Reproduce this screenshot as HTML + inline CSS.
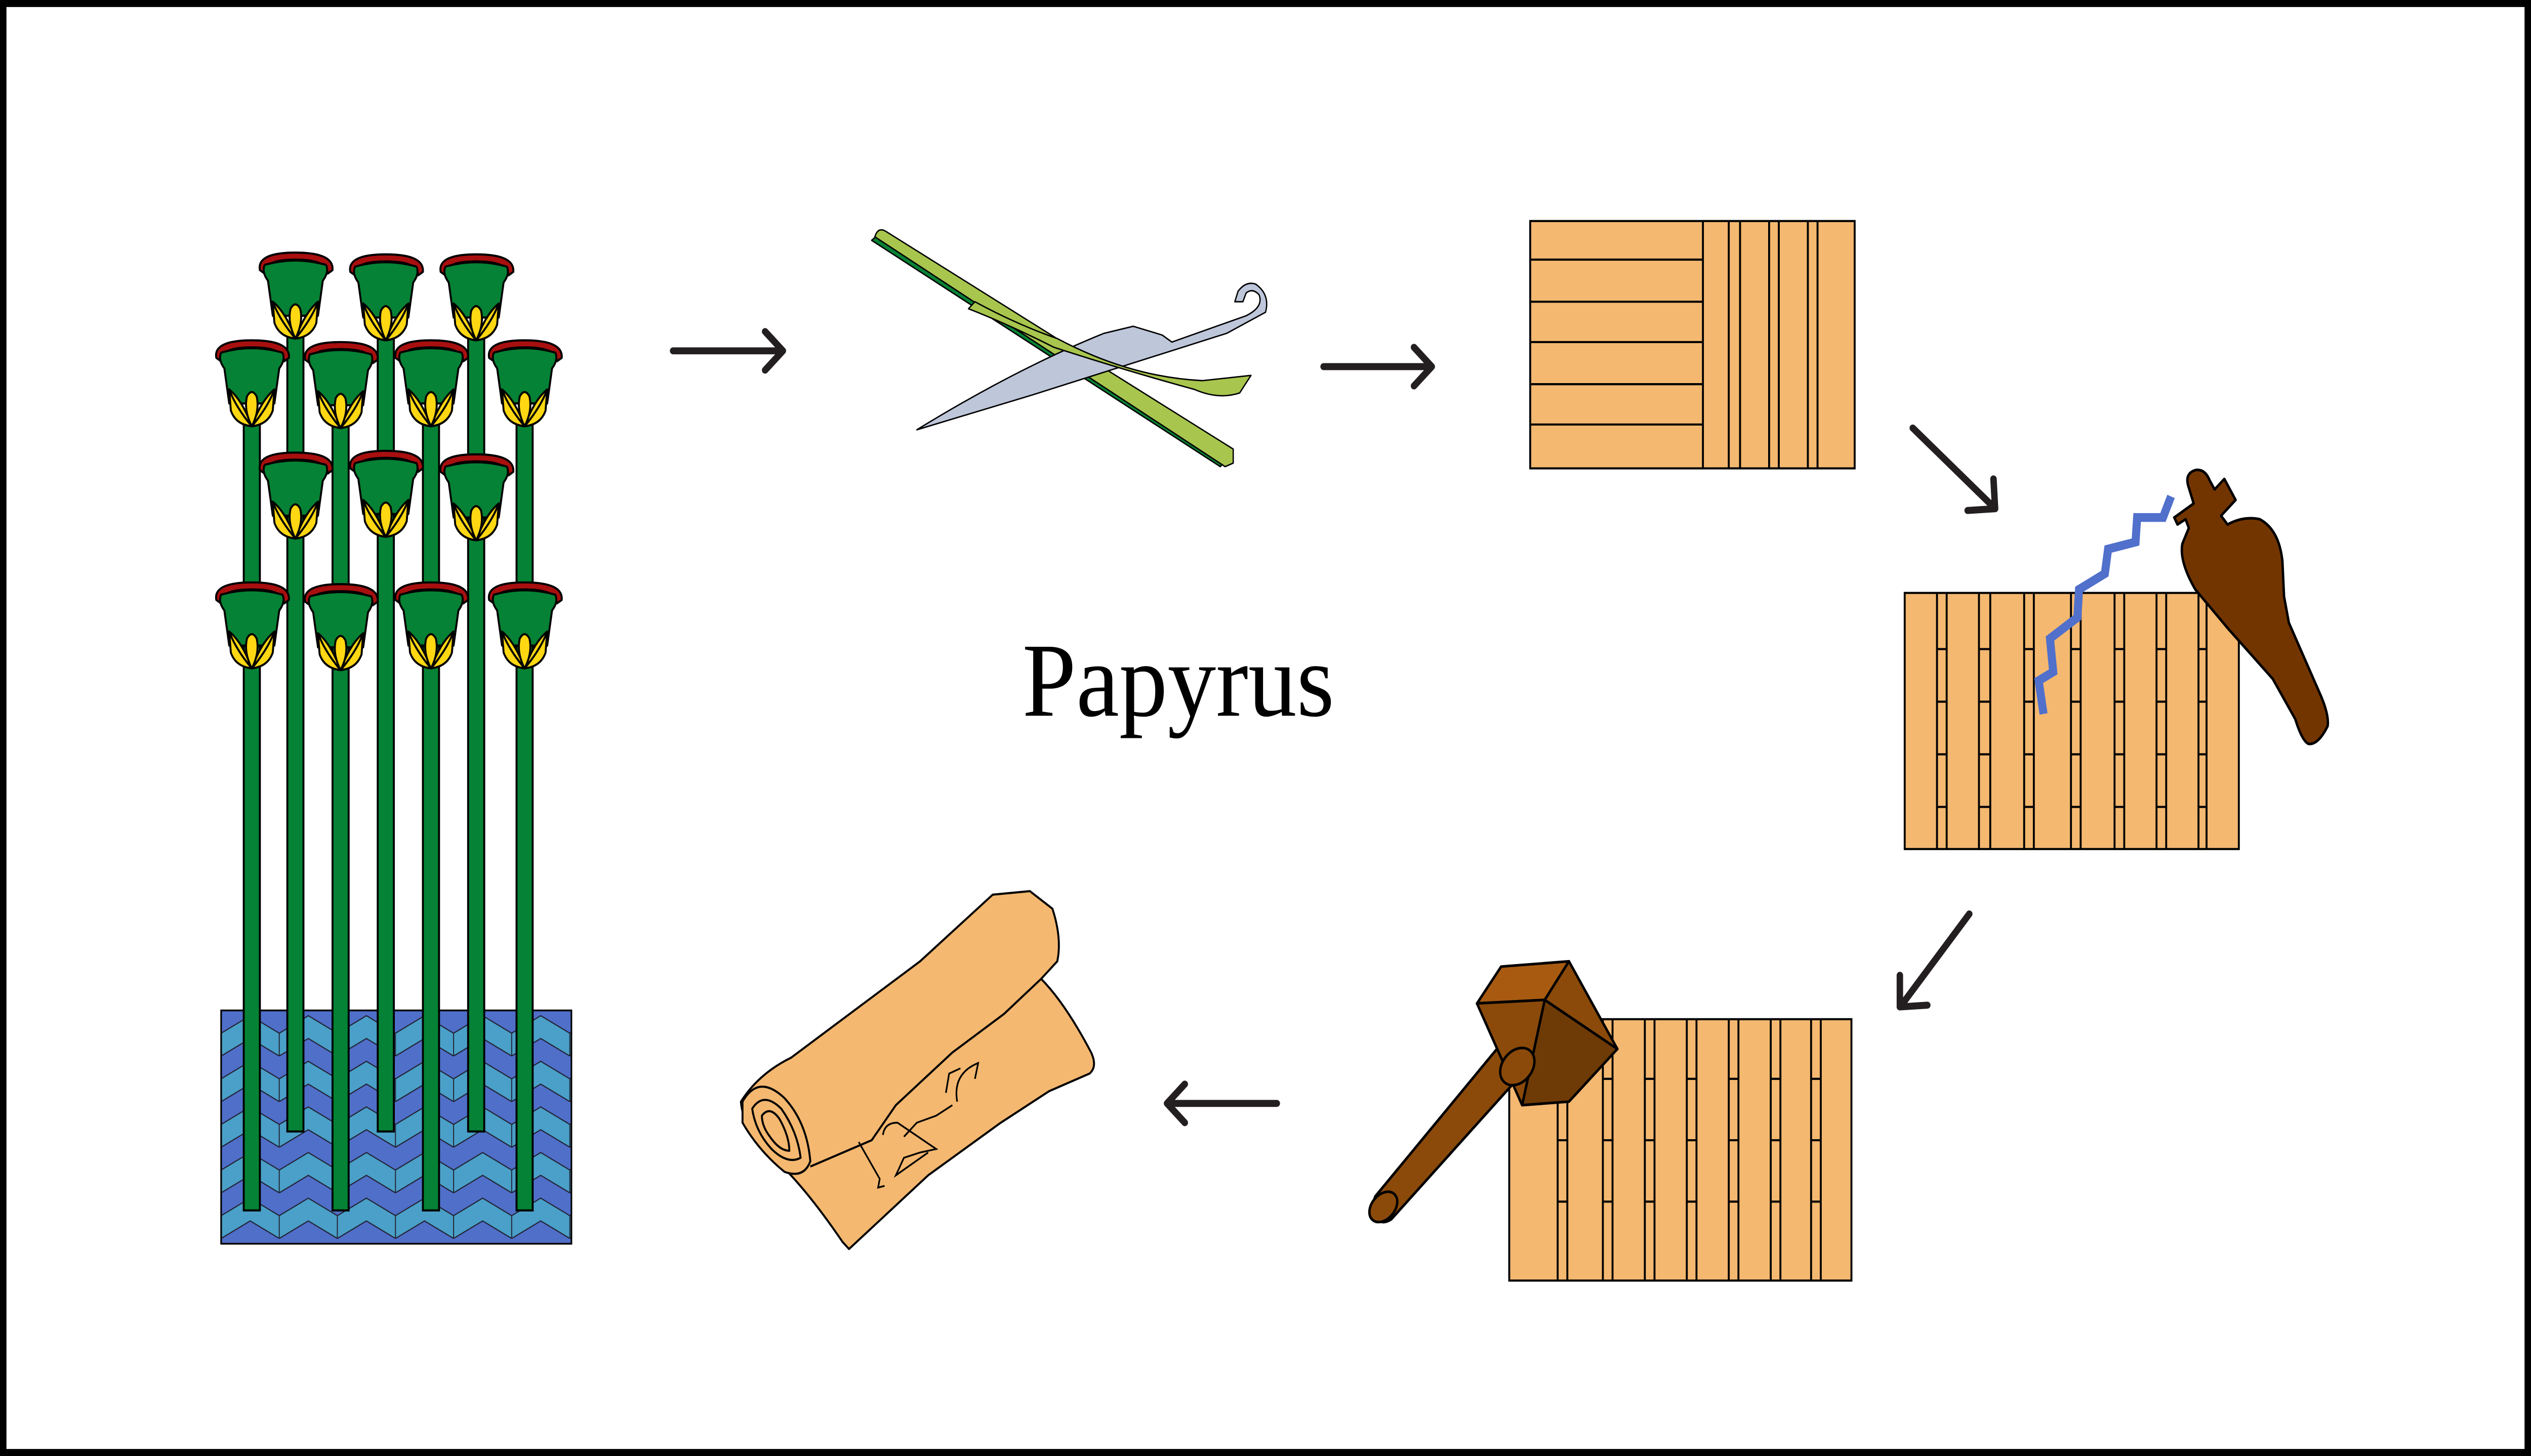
<!DOCTYPE html>
<html><head><meta charset="utf-8"><style>
html,body{margin:0;padding:0;background:#fff;overflow:hidden;width:100%;height:100%}
svg{display:block;position:absolute;left:0;top:0;width:100vw;height:100vh}
</style></head><body>
<svg viewBox="0 0 1568 830" preserveAspectRatio="none" xmlns="http://www.w3.org/2000/svg">
<defs>
<g id="fl" stroke="#000" stroke-width="1.2" stroke-linejoin="round">
<path d="M-22,8 Q-24,-2 0,-2 Q24,-2 23,8 L20,10 Q20,2 0,2 Q-20,2 -19,10 Z" fill="#a80f0f"/>
<path d="M-19,5 Q0,0 19,5 Q21,9 17,14 L14,34 L-14,34 L-17,14 Q-21,9 -19,5 Z" fill="#058235"/>
<path d="M-14,26 L0,44 L14,26 L13,38 Q10,46 0,47 Q-10,46 -13,38 Z" fill="#ffd712"/>
<path d="M0,47 Q-10,36 -14,26 Q-6,32 0,47 Z" fill="#ffd712"/>
<path d="M0,47 Q10,36 14,26 Q6,32 0,47 Z" fill="#ffd712"/>
<path d="M0,47 Q-5,38 -3,30 Q0,25 3,30 Q5,38 0,47 Z" fill="#ffd712"/>
</g>
<pattern id="wz" x="137" y="576" width="36" height="26" patternUnits="userSpaceOnUse">
<rect width="36" height="26" fill="#4f6fc9"/>
<path d="M0,13 L18,3 L36,13 L36,26 L18,16 L0,26 Z" fill="#4aa0c8" stroke="#223" stroke-width="0.6"/>
<path d="M0,13 L18,3 L36,13 M0,0 L18,-10 L36,0 M0,26 L18,16 L36,26" fill="none" stroke="#223" stroke-width="0.6"/>
</pattern>
</defs>
<rect x="2" y="2" width="1564" height="826" fill="#fff" stroke="#000" stroke-width="4"/>

<rect x="137" y="576" width="217" height="133" fill="url(#wz)" stroke="#000" stroke-width="1"/>

<g fill="#058235" stroke="#000" stroke-width="1.2">
<rect x="178" y="185" width="10" height="460"/>
<rect x="234" y="185" width="10" height="460"/>
<rect x="290" y="185" width="10" height="460"/>
<rect x="151" y="235" width="10" height="455"/>
<rect x="206" y="235" width="10" height="455"/>
<rect x="262" y="235" width="10" height="455"/>
<rect x="320" y="235" width="10" height="455"/>
</g>
<use href="#fl" x="183" y="146"/><use href="#fl" x="239" y="147"/><use href="#fl" x="295" y="147"/>
<use href="#fl" x="156" y="196"/><use href="#fl" x="211" y="197"/><use href="#fl" x="267" y="196"/><use href="#fl" x="325" y="196"/>
<use href="#fl" x="183" y="260"/><use href="#fl" x="239" y="259"/><use href="#fl" x="295" y="261"/>
<use href="#fl" x="156" y="334"/><use href="#fl" x="211" y="335"/><use href="#fl" x="267" y="334"/><use href="#fl" x="325" y="334"/>

<g fill="none" stroke="#231f20" stroke-width="4" stroke-linecap="round" stroke-linejoin="round">
<path d="M417,200 L484,200 M474,189 L485,200 L474,211"/>
<path d="M820,209 L886,209 M876,198 L887,209 L876,220"/>
<path d="M1185,244 L1235,289 M1235,273 L1236,290 L1219,291"/>
<path d="M1220,521 L1178,573 M1177,556 L1177,574 L1194,573"/>
<path d="M791,629 L724,629 M734,618 L723,629 L734,640"/>
</g>

<g stroke="#000" stroke-width="0.8" stroke-linejoin="round">
<path d="M540,137 L756,266 L760,262 L545,133 Z" fill="#058235"/>
<path d="M542,135 Q544,129 549,132 L764,256 L764,264 L759,266 Z" fill="#a8c64e"/>
<path d="M568,245 Q630,210 684,190 L702,186 L720,191 L726,195 L772,180 Q783,175 780,168 Q776,164 772,167 L770,172 L765,172 L767,166 Q772,160 778,162 Q787,168 784,178 L760,190 L640,225 Z" fill="#bec6da"/>
<path d="M604,172 Q630,185 655,193 Q700,215 745,217 L775,214 L768,224 Q755,228 740,222 Q700,212 653,198 Q625,185 600,176 Z" fill="#a8c64e"/>
</g>

<g stroke="#000" stroke-width="1.2" fill="#f4b870">
<rect x="948" y="126" width="201" height="141"/>
<path d="M948,148 H1055 M948,172 H1055 M948,195 H1055 M948,219 H1055 M948,242 H1055 M1055,126 V267 M1071,126 V267 M1078,126 V267 M1096,126 V267 M1102,126 V267 M1120,126 V267 M1126,126 V267" fill="none"/>
</g>

<g stroke="#000" stroke-width="1.2" fill="#f4b870">
<rect x="1180" y="338" width="207" height="146"/>
<path d="M1200,338V484M1206,338V484M1226,338V484M1233,338V484M1254,338V484M1260,338V484M1283,338V484M1289,338V484M1310,338V484M1316,338V484M1336,338V484M1342,338V484M1362,338V484M1367,338V484" fill="none"/>
<path d="M1200,370h6M1200,400h6M1200,430h6M1200,460h6M1226,370h7M1226,400h7M1226,430h7M1226,460h7M1254,370h6M1254,400h6M1254,430h6M1254,460h6M1283,370h6M1283,400h6M1283,430h6M1283,460h6M1310,370h6M1310,400h6M1310,430h6M1310,460h6M1336,370h6M1336,400h6M1336,430h6M1336,460h6M1362,370h5M1362,400h5M1362,430h5M1362,460h5" fill="none"/>
</g>
<path d="M1266,407 L1263,388 L1272,383 L1270,364 L1287,352 L1288,336 L1304,327 L1306,313 L1323,309 L1324,295 L1340,295 L1345,283" fill="none" stroke="#5070cc" stroke-width="5"/>
<path d="M1347,295 L1359,287 L1356,278 Q1353,270 1360,268 Q1366,267 1369,274 L1372,279 L1378,273 L1385,285 L1376,294 L1380,299 Q1390,294 1400,296 Q1412,302 1414,320 L1415,340 L1418,355 L1438,397 Q1443,408 1442,414 Q1436,425 1430,424 Q1426,422 1422,410 L1408,387 L1380,358 L1360,336 Q1350,320 1352,310 L1356,301 L1354,296 L1349,299 Z" fill="#733500" stroke="#000" stroke-width="1.5" stroke-linejoin="round"/>

<g stroke="#000" stroke-width="1.2" fill="#f4b870">
<rect x="935" y="581" width="212" height="149"/>
<path d="M965,581V730M971,581V730M993,581V730M999,581V730M1019,581V730M1025,581V730M1045,581V730M1051,581V730M1071,581V730M1077,581V730M1097,581V730M1103,581V730M1122,581V730M1128,581V730" fill="none"/>
<path d="M965,615h6M965,650h6M965,685h6M993,615h6M993,650h6M993,685h6M1019,615h6M1019,650h6M1019,685h6M1045,615h6M1045,650h6M1045,685h6M1071,615h6M1071,650h6M1071,685h6M1097,615h6M1097,650h6M1097,685h6M1122,615h6M1122,650h6M1122,685h6" fill="none"/>
</g>
<g stroke="#000" stroke-width="1.5" stroke-linejoin="round">
<path d="M930,595 L946,609 L862,695 Q854,700 849,690 L852,682 Z" fill="#8b4a0a"/>
<ellipse cx="857" cy="688" rx="7" ry="10" transform="rotate(45 857 688)" fill="#8b4a0a"/>
<path d="M915,572 L930,551 L972,548 L957,570 Z" fill="#a85b10"/>
<path d="M915,572 L957,570 L943,630 Z" fill="#8b4a0a"/>
<path d="M957,570 L972,548 L1002,598 Z" fill="#8b4a0a"/>
<path d="M957,570 L1002,598 L972,628 L943,630 Z" fill="#6e3a06"/>
<ellipse cx="940" cy="608" rx="9" ry="12" transform="rotate(45 940 608)" fill="#8b4a0a"/>
</g>

<g stroke="#000" stroke-width="1.2" stroke-linejoin="round" fill="#f4b870">
<path d="M459,628 Q470,612 490,603 L570,548 L615,510 L638,508 L652,518 Q658,535 655,548 L645,558 Q660,572 676,600 Q680,608 675,612 L650,622 L620,640 L575,670 L540,700 L526,712 L522,708 Q505,685 490,670 L470,650 Q460,640 459,628 Z"/>
<path d="M645,558 L622,578 L590,600 L555,630 L540,650 L502,665" fill="none"/>
<path d="M460,628 Q470,612 486,626 Q500,640 502,662 Q498,672 486,668 Q470,656 460,640 Z"/>
<path d="M466,632 Q473,622 484,632 Q494,645 496,660 Q488,664 478,655 Q468,645 466,632 Z M472,636 Q477,630 483,638 Q489,648 489,656 Q483,656 477,648 Q472,642 472,636 Z" fill="none"/>
</g>
<g stroke="#000" stroke-width="1" fill="none">
<path d="M593,628 Q590,612 606,606 L604,615"/>
<path d="M586,623 L588,612 L595,609 M560,648 L568,640 L580,636 L590,630"/>
<path d="M547,647 Q548,640 556,640 L580,655 L570,657 L560,660 L555,670 L575,657"/>
<path d="M532,651 L545,672 L544,677 L548,676"/>
</g>

<text x="730" y="408" text-anchor="middle" font-family="Liberation Serif, serif" font-size="60" fill="#000">Papyrus</text>
</svg>
</body></html>
